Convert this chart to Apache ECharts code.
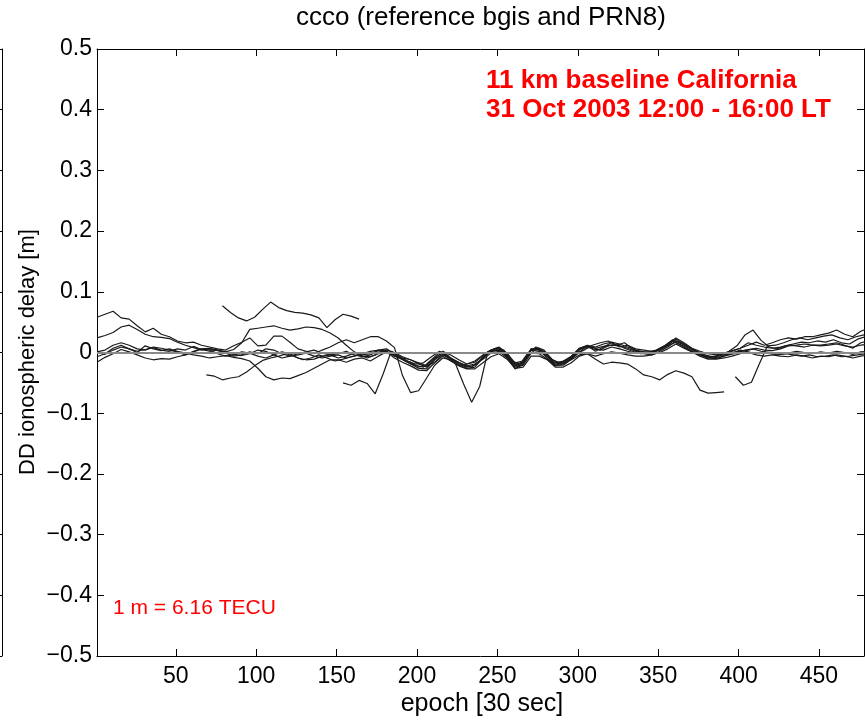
<!DOCTYPE html>
<html><head><meta charset="utf-8">
<script src="https://cdn.jsdelivr.net/npm/echarts@6/dist/echarts.min.js"></script>
<style>html,body{margin:0;padding:0;background:#fff}#c{width:865px;height:721px}</style>
</head><body><div id="c"></div>
<script>
// ---- data (DD ionospheric delay in metres, one value every 5 epochs) ----
const xTickValues = [50, 100, 150, 200, 250, 300, 350, 400, 450];
const yTickValues = [-0.5, -0.4, -0.3, -0.2, -0.1, 0, 0.1, 0.2, 0.3, 0.4, 0.5];
const epochStep = 5;
const seriesStarts = [1, 1, 1, 1, 1, 1, 79, 69, 154, 398];

const valuesA = [0.058, 0.063, 0.068, 0.057, 0.055, 0.044, 0.034, 0.040, 0.030, 0.026,
 0.019, 0.016, 0.017, 0.012, 0.009, 0.006, 0.004, 0.011, 0.017, 0.024,
 0.011, 0.012, 0.027, 0.027, 0.017, 0.006, 0.002, -0.002, 0.004, 0.009,
 0.016, 0.021, 0.016, 0.021, 0.026, 0.026, 0.019, 0.008, -0.038, -0.066,
 -0.063, -0.042, -0.021, -0.009, -0.012, -0.021, -0.019, -0.016, -0.006, 0.001,
 0.006, -0.004, -0.022, -0.017, 0.004, 0.006, -0.006, -0.019, -0.016, -0.007,
 0.007, 0.011, 0.007, 0.010, 0.012, 0.011, 0.007, 0.002, 0.001, -0.001,
 0.006, 0.012, 0.022, 0.014, 0.006, -0.001, -0.007, -0.006, -0.002, 0.003,
 0.007, 0.012, 0.017, 0.012, 0.016, 0.021, 0.024, 0.022, 0.026, 0.026,
 0.029, 0.032, 0.037, 0.030, 0.026, 0.035, 0.040];
const valuesB = [0.024, 0.028, 0.033, 0.042, 0.045, 0.038, 0.030, 0.026, 0.025, 0.023,
 0.017, 0.012, 0.008, 0.004, 0.006, 0.003, 0.001, 0.005, 0.016, 0.038,
 0.040, 0.042, 0.044, 0.040, 0.037, 0.039, 0.042, 0.041, 0.038, 0.032,
 0.024, 0.012, 0.001, -0.006, -0.007, -0.002, 0.004, 0.000, -0.007, -0.012,
 -0.019, -0.024, -0.011, 0.002, -0.004, -0.012, -0.019, -0.014, -0.004, 0.004,
 0.008, -0.002, -0.017, -0.014, 0.006, 0.004, -0.009, -0.022, -0.019, -0.009,
 0.006, 0.009, 0.005, 0.004, 0.009, 0.006, 0.002, -0.001, -0.002, -0.004,
 0.002, 0.009, 0.019, 0.012, 0.004, -0.003, -0.009, -0.010, -0.006, 0.000,
 0.002, 0.004, 0.007, 0.004, 0.003, 0.006, 0.011, 0.012, 0.014, 0.012,
 0.012, 0.014, 0.016, 0.012, 0.007, 0.016, 0.019];
const valuesC = [0.001, 0.004, 0.012, 0.016, 0.012, 0.006, 0.004, 0.009, 0.007, 0.004,
 0.001, -0.004, 0.001, 0.006, 0.004, -0.002, -0.006, -0.004, 0.001, -0.001,
 -0.006, -0.009, -0.004, 0.001, -0.002, -0.009, -0.012, -0.011, -0.006, -0.004,
 -0.009, -0.006, -0.001, -0.004, -0.002, 0.004, 0.006, -0.002, -0.011, -0.016,
 -0.024, -0.021, -0.009, -0.001, -0.009, -0.016, -0.022, -0.019, -0.011, -0.001,
 0.002, -0.009, -0.024, -0.021, -0.001, -0.002, -0.011, -0.021, -0.017, -0.012,
 -0.004, -0.002, -0.011, -0.019, -0.016, -0.017, -0.019, -0.027, -0.037, -0.040,
 -0.045, -0.036, -0.030, -0.034, -0.040, -0.062, -0.067, -0.066, -0.065];
const valuesD = [0.000, -0.003, 0.004, 0.009, 0.006, 0.002, 0.005, 0.008, 0.004, 0.002,
 0.006, 0.004, 0.010, 0.005, 0.002, 0.004, 0.001, -0.003, -0.005, -0.002,
 0.004, 0.002, -0.004, -0.009, -0.006, -0.002, 0.001, 0.004, -0.001, -0.004,
 -0.002, 0.002, -0.004, -0.007, -0.004, 0.003, 0.002, -0.006, -0.011, -0.019,
 -0.026, -0.027, -0.012, -0.003, -0.012, -0.021, -0.026, -0.024, -0.009, 0.002,
 0.004, -0.007, -0.027, -0.019, 0.004, 0.002, -0.006, -0.021, -0.021, -0.011,
 0.004, 0.011, 0.002, 0.009, 0.016, 0.009, 0.012, 0.006, 0.004, 0.002,
 0.004, 0.011, 0.017, 0.010, 0.002, -0.004, -0.009, -0.007, -0.004, -0.001,
 0.004, 0.001, -0.002, 0.001, 0.000, -0.003, -0.001, 0.002, 0.000, -0.002,
 0.001, -0.001, 0.002, 0.000, -0.003, 0.001, 0.002];
const valuesE = [-0.007, -0.002, 0.007, 0.012, 0.006, 0.000, 0.011, 0.006, 0.003, 0.006,
 0.002, -0.001, -0.004, -0.006, -0.009, -0.007, -0.005, -0.008, -0.010, -0.014,
 -0.026, -0.040, -0.045, -0.042, -0.043, -0.038, -0.033, -0.026, -0.019, -0.012,
 -0.012, -0.016, -0.011, -0.009, -0.014, -0.006, 0.001, -0.004, -0.009, -0.012,
 -0.017, -0.022, -0.016, -0.004, -0.009, -0.019, -0.024, -0.021, -0.009, 0.004,
 0.009, -0.001, -0.019, -0.016, 0.006, 0.007, -0.004, -0.017, -0.014, -0.006,
 0.007, 0.012, 0.009, 0.014, 0.017, 0.014, 0.009, 0.004, 0.001, 0.000,
 0.007, 0.014, 0.024, 0.016, 0.007, 0.002, -0.002, -0.004, -0.001, 0.002,
 0.007, 0.016, 0.012, 0.009, 0.007, 0.009, 0.012, 0.011, 0.009, 0.012,
 0.011, 0.012, 0.014, 0.011, 0.009, 0.012, 0.014];
const valuesF = [-0.016, -0.008, -0.002, 0.005, 0.001, -0.004, -0.009, -0.012, -0.010, -0.011,
 -0.007, -0.004, 0.002, 0.006, 0.007, 0.004, -0.001, -0.006, -0.004, 0.001,
 -0.002, 0.006, 0.004, -0.002, -0.006, -0.004, -0.001, -0.006, -0.009, -0.006,
 -0.004, -0.009, -0.006, -0.002, 0.002, 0.004, 0.001, -0.009, -0.016, -0.022,
 -0.029, -0.030, -0.017, -0.006, -0.014, -0.022, -0.027, -0.027, -0.017, -0.007,
 -0.002, -0.011, -0.026, -0.024, -0.006, -0.006, -0.012, -0.024, -0.024, -0.017,
 -0.006, -0.002, -0.006, -0.002, 0.001, -0.001, -0.004, -0.006, -0.006, -0.004,
 0.000, 0.006, 0.014, 0.007, 0.001, -0.006, -0.011, -0.011, -0.009, -0.006,
 -0.002, 0.000, -0.004, -0.006, -0.004, -0.006, -0.007, -0.004, -0.006, -0.009,
 -0.006, -0.007, -0.004, -0.006, -0.009, -0.006, -0.004];
const valuesG = [0.077, 0.066, 0.057, 0.052, 0.058, 0.071, 0.083, 0.074, 0.069, 0.066,
 0.065, 0.062, 0.057, 0.041, 0.054, 0.063, 0.060, 0.055];
const valuesH = [-0.037, -0.039, -0.045, -0.042, -0.040, -0.032, -0.022, -0.013, -0.009, -0.006,
 -0.002, -0.007, -0.012, -0.009, -0.004, -0.009, -0.014, -0.011, -0.007, -0.004,
 -0.009, -0.004, 0.004, -0.002, -0.009, -0.016, -0.021, -0.024, -0.012, 0.000,
 -0.006, -0.014, -0.021, -0.024, -0.014, 0.001, 0.006, 0.001, -0.017, -0.022,
 -0.006, 0.006, 0.002, -0.011, -0.019, -0.014, -0.004, 0.007, 0.009, 0.004,
 0.011, 0.014, 0.007, 0.002, -0.002, 0.001, 0.004, 0.011, 0.021, 0.016,
 0.009, 0.002, -0.004, -0.007, -0.004, 0.002, 0.011, 0.029, 0.037, 0.020,
 0.009, 0.006, 0.011, 0.014, 0.017, 0.016, 0.019, 0.017, 0.021, 0.016,
 0.014, 0.022, 0.026];
const valuesI = [-0.050, -0.054, -0.046, -0.051, -0.068, -0.035, 0.002,
 -0.006, -0.014, -0.019, -0.017, -0.007, 0.002,
 -0.004, -0.019, -0.052, -0.082, -0.056, 0.001,
 0.007, 0.004, -0.014, -0.019, -0.001, 0.009, 0.004, -0.012, -0.017, -0.011,
 -0.001, 0.004, 0.012, 0.016, 0.019, 0.012, 0.016, 0.006, 0.001, -0.001,
 0.002, 0.009, 0.019, 0.012, 0.004, -0.002, -0.006, -0.009, -0.007, -0.004,
 -0.001, 0.004, 0.006, 0.002, -0.001, -0.004, -0.002, -0.004, -0.006, -0.004,
 -0.007, -0.006, -0.004, -0.007, -0.006, -0.004, -0.002];
const valuesJ = [-0.040, -0.054, -0.049, -0.018, 0.011, 0.012, 0.016, 0.021, 0.024, 0.021,
 0.024, 0.027, 0.029, 0.024, 0.021, 0.026, 0.029];

const allValues = [valuesA, valuesB, valuesC, valuesD, valuesE, valuesF, valuesG, valuesH, valuesI, valuesJ];

// ---- chart ----
const FONT = "'Liberation Sans', Arial, Helvetica, sans-serif";
const chart = echarts.init(document.getElementById('c'), null, {renderer: 'canvas'});

function fmtY(v) {
  const r = Math.round(v * 10) / 10;
  if (r === 0) return '0';
  return (r < 0 ? '\u2212' : '') + Math.abs(r).toFixed(1);
}

const axisLineStyle = {show: true, onZero: false, lineStyle: {color: '#000', width: 1}};
const tickStyle = {show: true, inside: true, length: 7, lineStyle: {color: '#000', width: 1}};

const series = allValues.map((vals, k) => ({
  type: 'line',
  xAxisIndex: 0, yAxisIndex: 0,
  data: vals.map((v, i) => [seriesStarts[k] + epochStep * i, v]),
  showSymbol: false, symbol: 'none',
  lineStyle: {color: '#1a1a1a', width: 1.2},
  silent: true,
  clip: true,
  animation: false
}));
series[0].markLine = {
  silent: true, symbol: 'none', animation: false,
  label: {show: false},
  lineStyle: {color: '#8a8a8a', width: 2, type: 'solid'},
  data: [{yAxis: 0}]
};

chart.setOption({
  animation: false,
  backgroundColor: '#fff',
  grid: [
    {left: 97, right: 1, top: 49, bottom: 65, containLabel: false},
    {left: 0, width: 2, top: 49, bottom: 65, containLabel: false}
  ],
  xAxis: [
    {type: 'value', gridIndex: 0, position: 'bottom', min: 1, max: 478,
     axisLine: axisLineStyle,
     axisTick: Object.assign({}, tickStyle, {customValues: xTickValues}),
     axisLabel: {show: true, customValues: xTickValues, color: '#000', fontSize: 23, fontFamily: FONT, margin: 9},
     splitLine: {show: false}},
    {type: 'value', gridIndex: 0, position: 'top', min: 1, max: 478,
     axisLine: axisLineStyle,
     axisTick: Object.assign({}, tickStyle, {customValues: xTickValues}),
     axisLabel: {show: false},
     splitLine: {show: false}},
    {type: 'value', gridIndex: 1, show: false, min: 0, max: 1}
  ],
  yAxis: [
    {type: 'value', gridIndex: 0, position: 'left', min: -0.5, max: 0.5,
     axisLine: axisLineStyle,
     axisTick: Object.assign({}, tickStyle, {customValues: yTickValues}),
     axisLabel: {show: true, customValues: yTickValues, formatter: fmtY, color: '#000', fontSize: 23, fontFamily: FONT, margin: 5,
                 showMinLabel: true, showMaxLabel: true},
     splitLine: {show: false}},
    {type: 'value', gridIndex: 0, position: 'right', min: -0.5, max: 0.5,
     axisLine: axisLineStyle,
     axisTick: Object.assign({}, tickStyle, {customValues: yTickValues}),
     axisLabel: {show: false},
     splitLine: {show: false}},
    {type: 'value', gridIndex: 1, position: 'right', min: -0.5, max: 0.5,
     axisLine: axisLineStyle,
     axisTick: Object.assign({}, tickStyle, {customValues: yTickValues}),
     axisLabel: {show: false},
     splitLine: {show: false}}
  ],
  graphic: [
    {type: 'text', x: 481, y: 18, silent: true,
     style: {text: 'ccco (reference bgis and PRN8)', fill: '#000', font: '26px ' + FONT, textAlign: 'center', textVerticalAlign: 'middle'}},
    {type: 'text', x: 482, y: 704, silent: true,
     style: {text: 'epoch [30 sec]', fill: '#000', font: '25px ' + FONT, textAlign: 'center', textVerticalAlign: 'middle'}},
    {type: 'text', x: 28, y: 352, rotation: Math.PI / 2, silent: true,
     style: {text: 'DD ionospheric delay [m]', fill: '#000', font: '22px ' + FONT, textAlign: 'center', textVerticalAlign: 'middle'}},
    {type: 'text', x: 486, y: 81, silent: true,
     style: {text: '11 km baseline California', fill: '#ff0000', font: 'bold 26px ' + FONT, textAlign: 'left', textVerticalAlign: 'middle'}},
    {type: 'text', x: 486, y: 110, silent: true,
     style: {text: '31 Oct 2003 12:00 - 16:00 LT', fill: '#ff0000', font: 'bold 26px ' + FONT, textAlign: 'left', textVerticalAlign: 'middle'}},
    {type: 'text', x: 113, y: 608, silent: true,
     style: {text: '1 m = 6.16 TECU', fill: '#ff0000', font: '21px ' + FONT, textAlign: 'left', textVerticalAlign: 'middle'}}
  ],
  series: series
});
</script>
</body></html>
